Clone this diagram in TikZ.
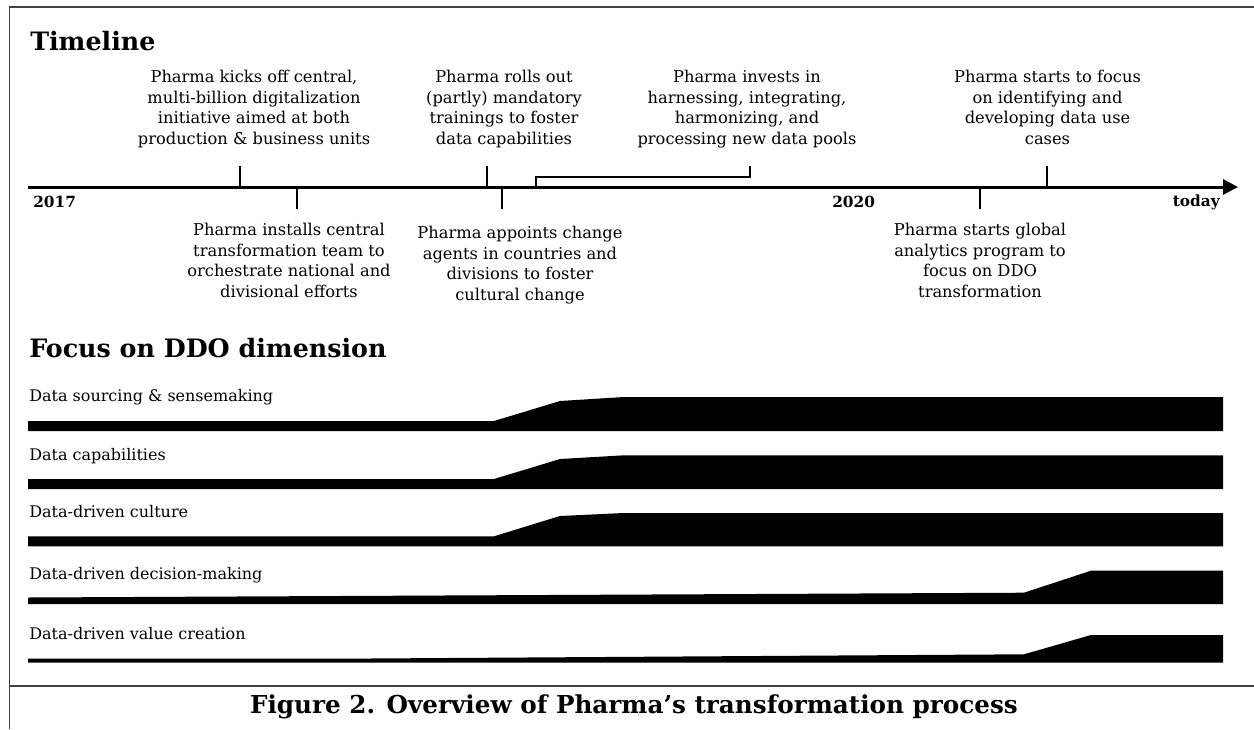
\documentclass[tikz,border=0pt]{standalone}
\usepackage{fontspec}
\setmainfont{DejaVu Serif}
\usetikzlibrary{arrows.meta}

\begin{document}
	\begin{tikzpicture}[x=0.75pt,y=-0.75pt,
		event/.style={anchor=north,align=center,inner sep=0pt,font=\fontsize{12.2}{15.4}\selectfont},
		rowlabel/.style={anchor=base west,inner sep=0pt,font=\fontsize{12}{14}\selectfont},
		heading/.style={anchor=base west,inner sep=0pt,font=\fontsize{19}{22}\selectfont\bfseries},
		year/.style={inner sep=0pt,font=\fontsize{11.5}{13}\selectfont\bfseries},
		timetick/.style={line width=1.5pt},
		framerule/.style={line width=0.9pt,black!75}]
		\useasboundingbox (0,0) rectangle (1254,729);
		\draw[framerule] (9.5,729) -- (9.5,7) -- (1254,7);
		\draw[framerule] (9.5,686) -- (1254,686);
		\node[heading] (timeline) at (30,50.7) {Timeline};
		\draw[line width=2.25pt,-{Triangle[length=11.25pt,width=11.25pt]}] (28,187) -- (1238,187);
		\coordinate (kickoff) at (240,187);
		\coordinate (installs) at (296.7,187);
		\coordinate (rollout) at (487.3,187);
		\coordinate (appoints) at (501.7,187);
		\coordinate (invests) at (536,187);
		\coordinate (analytics) at (980,187);
		\coordinate (usecases) at (1046.7,187);
		\draw[timetick] (kickoff) -- ++(0,-21);
		\draw[timetick] (rollout) -- ++(0,-21);
		\draw[timetick] (usecases) -- ++(0,-21);
		\draw[timetick] (invests) -- ++(0,-10.5) -| (750,166);
		\draw[timetick] (installs) -- ++(0,21.5);
		\draw[timetick] (appoints) -- ++(0,22);
		\draw[timetick] (analytics) -- ++(0,21.5);
		\node[year,anchor=base west] (start) at (33,207.5) {2017};
		\node[year,anchor=base west] (mid) at (832,207) {2020};
		\node[year,anchor=base east] (today) at (1220,206.5) {today};
		\node[event] (kickofftext) at (254,70) {Pharma kicks off central,\\multi-billion digitalization\\initiative aimed at both\\production \& business units};
		\node[event] (rollouttext) at (504,70) {Pharma rolls out\\(partly) mandatory\\trainings to foster\\data capabilities};
		\node[event] (investstext) at (747,70) {Pharma invests in\\harnessing, integrating,\\harmonizing, and\\processing new data pools};
		\node[event] (usecasestext) at (1047.5,70) {Pharma starts to focus\\on identifying and\\developing data use\\cases};
		\node[event] (installstext) at (289,223) {Pharma installs central\\transformation team to\\orchestrate national and\\divisional efforts};
		\node[event] (appointstext) at (520,226) {Pharma appoints change\\agents in countries and\\divisions to foster\\cultural change};
		\node[event] (analyticstext) at (980,223) {Pharma starts global\\analytics program to\\focus on DDO\\transformation};
		\node[heading] (focus) at (29,357.3) {Focus on DDO dimension};
		\node[rowlabel] (sourcing) at (29,401.7) {Data sourcing \& sensemaking};
		\fill (28,431) -- (28,421) -- (494,421) -- (560,401) -- (624,397) -- (1223,397) -- (1223,431) -- cycle;
		\node[rowlabel] (capabilities) at (29,460) {Data capabilities};
		\fill (28,489) -- (28,479) -- (494,479) -- (560,459) -- (624,455.3) -- (1223,455.3) -- (1223,489) -- cycle;
		\node[rowlabel] (culture) at (29,517) {Data-driven culture};
		\fill (28,546.3) -- (28,536.3) -- (494,536.3) -- (560,516) -- (624,513) -- (1223,513) -- (1223,546.3) -- cycle;
		\node[rowlabel] (decision) at (29,579) {Data-driven decision-making};
		\fill (28,604) -- (28,597.5) -- (1024,592.7) -- (1091,570.7) -- (1223,570.7) -- (1223,604) -- cycle;
		\node[rowlabel] (value) at (29,639) {Data-driven value creation};
		\fill (28,662.5) -- (28,658.5) -- (370,658.5) -- (1024,654.3) -- (1091,635) -- (1223,635) -- (1223,662.5) -- cycle;
		\node[anchor=base,inner sep=0pt,font=\fontsize{18.5}{22}\selectfont\bfseries] (caption) at (634,713) {Figure 2. Overview of Pharma’s transformation process};
	\end{tikzpicture}
\end{document}
